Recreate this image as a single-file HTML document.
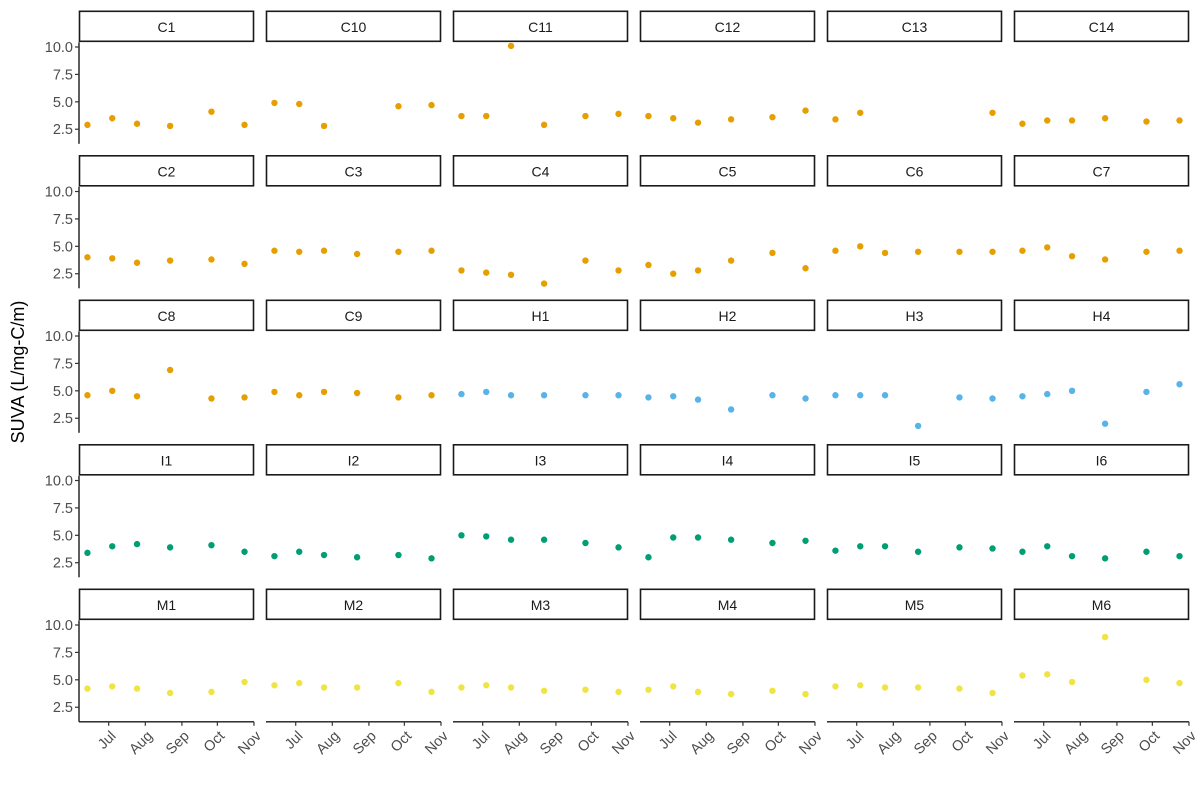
<!DOCTYPE html>
<html><head><meta charset="utf-8"><style>
body{margin:0;background:#fff}
svg{display:block;font-family:"Liberation Sans",Arial,sans-serif}
</style></head><body>
<svg id="chart" width="1200" height="800" viewBox="0 0 1200 800"></svg>
<script>
const panels = ["C1","C10","C11","C12","C13","C14","C2","C3","C4","C5","C6","C7","C8","C9","H1","H2","H3","H4","I1","I2","I3","I4","I5","I6","M1","M2","M3","M4","M5","M6"];
const sampleDates = ["2019-06-13","2019-07-04","2019-07-25","2019-08-22","2019-09-26","2019-10-24"];
const vC1=[2.9,3.5,3.0,2.8,4.1,2.9], vC10=[4.9,4.8,2.8,null,4.6,4.7], vC11=[3.7,3.7,10.1,2.9,3.7,3.9], vC12=[3.7,3.5,3.1,3.4,3.6,4.2], vC13=[3.4,4.0,null,null,null,4.0], vC14=[3.0,3.3,3.3,3.5,3.2,3.3];
const vC2=[4.0,3.9,3.5,3.7,3.8,3.4], vC3=[4.6,4.5,4.6,4.3,4.5,4.6], vC4=[2.8,2.6,2.4,1.6,3.7,2.8], vC5=[3.3,2.5,2.8,3.7,4.4,3.0], vC6=[4.6,5.0,4.4,4.5,4.5,4.5], vC7=[4.6,4.9,4.1,3.8,4.5,4.6];
const vC8=[4.6,5.0,4.5,6.9,4.3,4.4], vC9=[4.9,4.6,4.9,4.8,4.4,4.6], vH1=[4.7,4.9,4.6,4.6,4.6,4.6], vH2=[4.4,4.5,4.2,3.3,4.6,4.3], vH3=[4.6,4.6,4.6,1.8,4.4,4.3], vH4=[4.5,4.7,5.0,2.0,4.9,5.6];
const vI1=[3.4,4.0,4.2,3.9,4.1,3.5], vI2=[3.1,3.5,3.2,3.0,3.2,2.9], vI3=[5.0,4.9,4.6,4.6,4.3,3.9], vI4=[3.0,4.8,4.8,4.6,4.3,4.5], vI5=[3.6,4.0,4.0,3.5,3.9,3.8], vI6=[3.5,4.0,3.1,2.9,3.5,3.1];
const vM1=[4.2,4.4,4.2,3.8,3.9,4.8], vM2=[4.5,4.7,4.3,4.3,4.7,3.9], vM3=[4.3,4.5,4.3,4.0,4.1,3.9], vM4=[4.1,4.4,3.9,3.7,4.0,3.7], vM5=[4.4,4.5,4.3,4.3,4.2,3.8], vM6=[5.4,5.5,4.8,8.9,5.0,4.7];
const values=[vC1,vC10,vC11,vC12,vC13,vC14,vC2,vC3,vC4,vC5,vC6,vC7,vC8,vC9,vH1,vH2,vH3,vH4,vI1,vI2,vI3,vI4,vI5,vI6,vM1,vM2,vM3,vM4,vM5,vM6];
const yTicks=[2.5,5.0,7.5,10.0];
const xTickDates=["2019-07-01","2019-08-01","2019-09-01","2019-10-01","2019-11-01"];
const xTickLabels=["Jul","Aug","Sep","Oct","Nov"];
const groupColors={C:"#E69F00",H:"#56B4E9",I:"#009E73",M:"#F0E442"};

const svg=document.getElementById('chart');
const NS="http://www.w3.org/2000/svg";
function mk(tag,attrs,parent){const e=document.createElementNS(NS,tag);for(const k in attrs)e.setAttribute(k,attrs[k]);(parent||svg).appendChild(e);return e;}
const colX0=79, colStep=187, panelW=175;
const rowStep=144.5, stripTop0=11.3, stripH=31, plotH=101.5;
const yMin=1.17, yMax=10.43;
const day=d=>Date.parse(d)/86400000;
const jul1=day("2019-07-01"), pxPerDay=1.181, jul1Off=29.7;
function xScale(col,d){return colX0+col*colStep+jul1Off+(day(d)-jul1)*pxPerDay;}
function yScale(row,v){const top=stripTop0+row*rowStep+stripH;return top+(yMax-v)/(yMax-yMin)*plotH;}

panels.forEach((name,i)=>{
  const row=Math.floor(i/6), col=i%6;
  const x0=colX0+col*colStep, sTop=stripTop0+row*rowStep, pTop=sTop+stripH, pBot=pTop+plotH;
  const g=mk('g',{});
  
  
  const strip=mk('rect',{x:x0+0.5,y:sTop,width:panelW-1,height:stripH-1,fill:'#fff',stroke:'#1a1a1a','stroke-width':1.6},g);
  
  
  const st=mk('text',{x:x0+panelW/2,y:sTop+20.5,'text-anchor':'middle','font-size':14,fill:'#1a1a1a'},g);
  st.textContent=name;
  
  
  if(col===0){
    const ax=mk('line',{x1:x0,y1:pTop,x2:x0,y2:pBot,stroke:'#1a1a1a','stroke-width':1.4},g);
    
    
    yTicks.forEach(t=>{
      const y=yScale(row,t);
      mk('line',{x1:x0-4,y1:y,x2:x0,y2:y,stroke:'#333','stroke-width':1.2},g);
      const tl=mk('text',{x:x0-6,y:y+5,'text-anchor':'end','font-size':14.5,fill:'#4d4d4d'},g);
      tl.textContent=t.toFixed(1);
      
      
    });
  }
  if(row===4){
    const xa=mk('line',{x1:x0,y1:pBot,x2:x0+panelW,y2:pBot,stroke:'#1a1a1a','stroke-width':1.4},g);
    
    
    xTickDates.forEach((d,k)=>{
      const x=xScale(col,d);
      mk('line',{x1:x,y1:pBot,x2:x,y2:pBot+4,stroke:'#333','stroke-width':1.2},g);
      const ax=x+8, ay=pBot+15;
      const tl=mk('text',{x:ax,y:ay,'text-anchor':'end','font-size':14.5,fill:'#4d4d4d',transform:`rotate(-45 ${ax} ${ay})`},g);
      tl.textContent=xTickLabels[k];
      
      
    });
  }
  const color=groupColors[name[0]];
  values[i].forEach((v,k)=>{
    if(v===null)return;
    const c=mk('circle',{cx:xScale(col,sampleDates[k]),cy:yScale(row,v),r:3.2,fill:color},g);
    
    
  });
});
const yt=mk('text',{x:24,y:372,'text-anchor':'middle','font-size':18,fill:'#000',transform:'rotate(-90 24 372)'});
yt.textContent='SUVA (L/mg-C/m)';


</script>
</body></html>
